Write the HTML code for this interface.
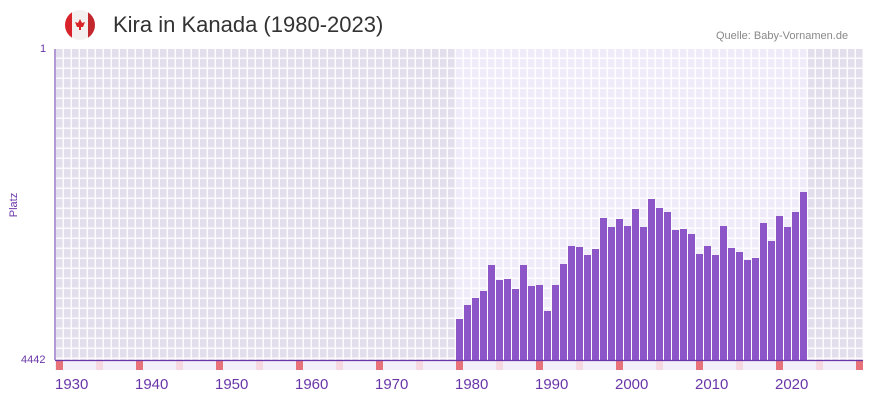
<!DOCTYPE html>
<html><head><meta charset="utf-8"><style>
body{margin:0;background:#fff;width:873px;height:402px;position:relative;overflow:hidden;font-family:"Liberation Sans",sans-serif}
.t{position:absolute;white-space:nowrap}
</style></head><body>
<svg width="873" height="402" style="position:absolute;left:0;top:0">
<defs>
<pattern id="g" x="56" y="49" width="8" height="10" patternUnits="userSpaceOnUse">
<rect x="6.5" y="0" width="1.5" height="10" fill="#fff" opacity="0.85"/>
<rect x="0" y="8.5" width="8" height="1.5" fill="#fff" opacity="0.85"/>
</pattern>
<clipPath id="c"><circle cx="80" cy="25" r="15"/></clipPath>
</defs>
<rect x="55" y="49" width="808" height="311" fill="#e3deec"/>
<rect x="456" y="49" width="352" height="311" fill="#f0ebf9"/>
<rect x="55" y="49" width="808" height="311" fill="url(#g)"/>
<rect x="55" y="361" width="808" height="9" fill="#f3effa"/>
<g id="bars" fill="#8c55c8"></g>
<g id="marks"></g>
<line x1="55" y1="49" x2="55" y2="360" stroke="#6a35a8" stroke-width="1"/>
<line x1="55" y1="360.5" x2="863" y2="360.5" stroke="#6a35a8" stroke-width="1.2"/>
<g clip-path="url(#c)">
<rect x="65" y="10" width="30" height="30" fill="#f4f0f0"/>
<rect x="65" y="10" width="7" height="30" fill="#d8232a"/>
<rect x="88" y="10" width="7" height="30" fill="#c1272d"/>
</g>
<polygon points="80,19 82,23 85,22 83,27 81,27 81,30 79,30 79,27 77,27 75,22 78,23" fill="#d8232a"/>
<text x="17" y="205" transform="rotate(-90 17 205)" text-anchor="middle" font-size="11" fill="#6a35a8" font-family="Liberation Sans, sans-serif">Platz</text>
</svg>
<div class="t" style="left:113px;top:12px;font-size:22px;color:#333">Kira in Kanada (1980-2023)</div>
<div class="t" style="left:716px;top:30px;font-size:11px;color:#888">Quelle: Baby-Vornamen.de</div>
<div class="t" style="left:40px;top:43px;font-size:11px;color:#6a35a8">1</div>
<div class="t" style="left:21px;top:354px;font-size:11px;color:#6a35a8">4442</div>
<div id="xl"></div>
<script>
var tops=[319,305,298,291,265,280,279,289,265,286,285,311,285,264,246,247,255,249,218,227,219,226,209,227,199,208,212,230,229,234,254,246,255,226,248,252,260,258,223,241,216,227,212,192];
var ns="http://www.w3.org/2000/svg",b=document.getElementById("bars"),m=document.getElementById("marks");
for(var i=0;i<tops.length;i++){var r=document.createElementNS(ns,"rect");var x=456+i*8;r.setAttribute("x",x);r.setAttribute("y",tops[i]);r.setAttribute("width",7);r.setAttribute("height",360-tops[i]);b.appendChild(r);}
for(var x=56,k=0;x<863;x+=40,k++){var r=document.createElementNS(ns,"rect");r.setAttribute("x",x);r.setAttribute("y",361);r.setAttribute("width",7);r.setAttribute("height",9);r.setAttribute("fill",(k%2==0)?"#e8727a":"#f5d8e0");m.appendChild(r);}
var h="";for(var y=1930;y<=2020;y+=10){h+='<div class="t" style="left:'+(56+(y-1930)*8-1)+'px;top:376px;font-size:15px;color:#6a35a8">'+y+'</div>';}
document.getElementById("xl").innerHTML=h;
</script>
</body></html>
